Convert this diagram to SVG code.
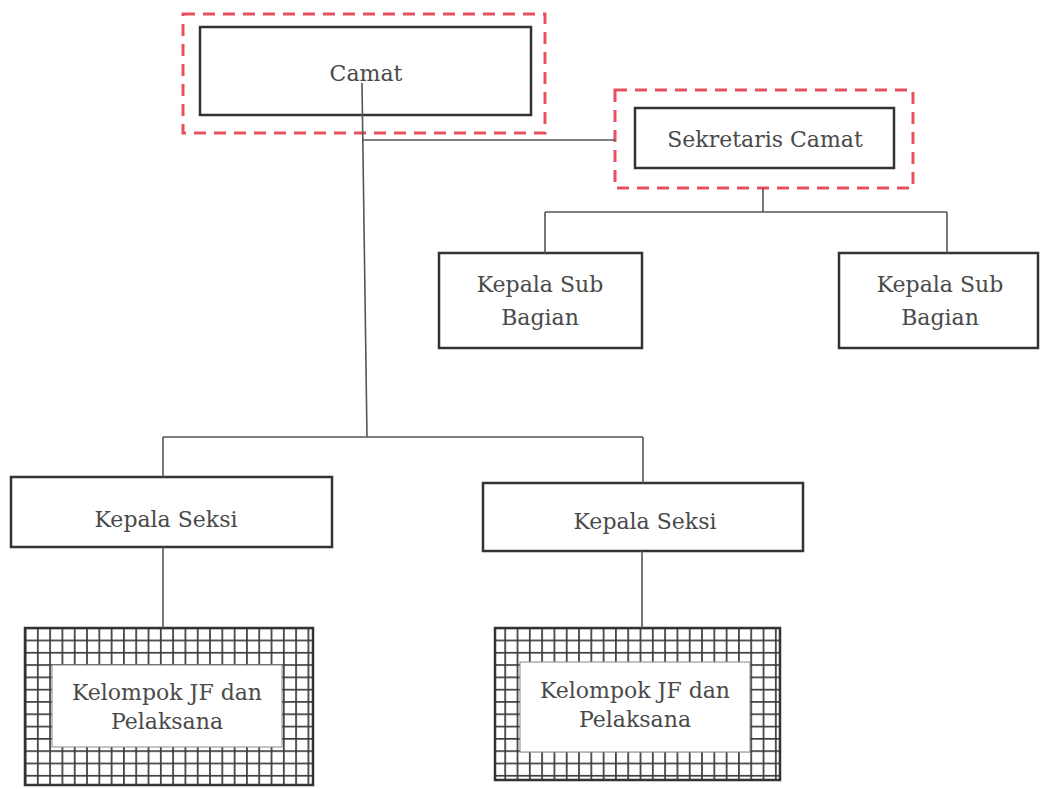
<svg xmlns="http://www.w3.org/2000/svg" width="1040" height="789" viewBox="0 0 1040 789">
<style>
.box{fill:#fff;stroke:#333;stroke-width:2.5}
.dash{fill:none;stroke:#e8505e;stroke-width:3;stroke-dasharray:12,8}
.ln{fill:none;stroke:#555;stroke-width:1.6}
.t{font-family:"DejaVu Serif","Liberation Serif",serif;font-size:22px;fill:#4a4a4a;text-anchor:middle}
.grid{fill:url(#g);stroke:#333;stroke-width:2.5}
</style>
<defs>
<pattern id="g" x="0" y="0" width="12.3" height="12.3" patternUnits="userSpaceOnUse">
<rect width="12.3" height="12.3" fill="#fff"/>
<path d="M0 0.9H12.3M0.9 0V12.3" stroke="#3a3a3a" stroke-width="1.7"/>
</pattern>
</defs>
<g id="camat">
<rect class="dash" x="183" y="14" width="362" height="119"/>
<rect class="box" x="200" y="27" width="331" height="88"/>
<text class="t" x="366" y="81">Camat</text>
</g>
<g id="sekretaris">
<rect class="dash" x="615" y="90" width="298" height="98"/>
<rect class="box" x="635" y="108" width="259" height="60"/>
<text class="t" x="765" y="147">Sekretaris Camat</text>
</g>
<g id="kasubag1">
<rect class="box" x="439" y="253" width="203" height="95"/>
<text class="t" x="540" y="292">Kepala Sub</text>
<text class="t" x="540" y="325">Bagian</text>
</g>
<g id="kasubag2">
<rect class="box" x="839" y="253" width="199" height="95"/>
<text class="t" x="940" y="292">Kepala Sub</text>
<text class="t" x="940" y="325">Bagian</text>
</g>
<g id="kasi1">
<rect class="box" x="11" y="477" width="321" height="70"/>
<text class="t" x="166" y="527">Kepala Seksi</text>
</g>
<g id="kasi2">
<rect class="box" x="483" y="483" width="320" height="68"/>
<text class="t" x="645" y="529">Kepala Seksi</text>
</g>
<g id="jf1">
<rect class="grid" x="25" y="628" width="288" height="157"/>
<rect x="52" y="665" width="230" height="82" fill="#fff" stroke="#888" stroke-width="1"/>
<text class="t" x="167" y="700">Kelompok JF dan</text>
<text class="t" x="167" y="729">Pelaksana</text>
</g>
<g id="jf2">
<rect class="grid" x="495" y="628" width="285" height="152"/>
<rect x="520" y="662" width="230" height="90" fill="#fff" stroke="#888" stroke-width="1"/>
<text class="t" x="635" y="698">Kelompok JF dan</text>
<text class="t" x="635" y="727">Pelaksana</text>
</g>
<g id="connectors">
<path class="ln" d="M362 83 L367 437"/>
<path class="ln" d="M363 140 H615"/>
<path class="ln" d="M763 188 V212 M545 212 H947 M545 212 V253 M947 212 V253"/>
<path class="ln" d="M163 437 H643 M163 437 V477 M643 437 V483"/>
<path class="ln" d="M163 547 V628 M642 551 V628"/>
</g>
</svg>
